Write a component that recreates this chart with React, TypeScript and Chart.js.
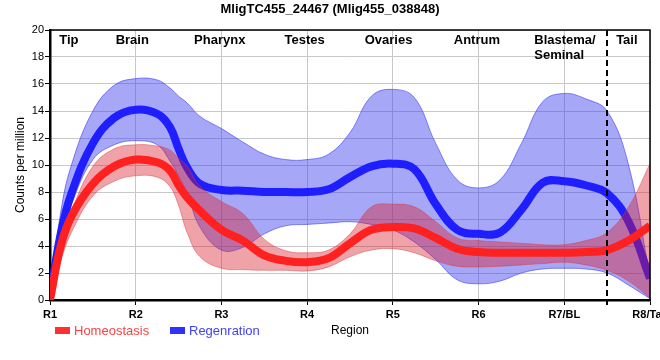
import React, { useEffect, useRef } from "react";
import { Chart, registerables } from "chart.js";

Chart.register(...registerables);

// ---- data ----
const chartTitle = "MligTC455_24467 (Mlig455_038848)";
const xTickLabels = ["R1", "R2", "R3", "R4", "R5", "R6", "R7/BL", "R8/Tail"];
const regionNames = ["Tip", "Brain", "Pharynx", "Testes", "Ovaries", "Antrum", "Blastema/\nSeminal", "Tail"];
const regionAt = [1.22, 1.96, 2.98, 3.97, 4.95, 5.98, 6.65, 7.73];
const dividerAt = 7.5;

const xPos = [1, 1.125, 1.25, 1.5, 1.75, 2, 2.25, 2.4, 2.5, 2.6, 2.75, 3, 3.25, 3.5, 3.75, 4, 4.25, 4.5, 4.75, 5, 5.25, 5.5, 5.75, 6, 6.25, 6.5, 6.75, 7, 7.25, 7.5, 7.75, 8];

const homeoMean = [0, 4.0, 6.2, 8.6, 9.9, 10.4, 10.2, 9.6, 8.5, 7.6, 6.6, 5.2, 4.4, 3.3, 2.9, 2.8, 3.1, 4.2, 5.2, 5.4, 5.3, 4.6, 3.8, 3.55, 3.5, 3.5, 3.5, 3.5, 3.55, 3.7, 4.4, 5.5];
const homeoHigh = [0, 4.4, 6.6, 9.9, 11.2, 11.5, 11.4, 11.1, 10.5, 9.9, 8.4, 7.3, 6.4, 4.5, 3.65, 3.5, 3.7, 4.9, 6.9, 7.1, 6.9, 5.8, 4.6, 4.4, 4.3, 4.2, 4.1, 4.1, 4.4, 5.0, 6.9, 10.1];
const homeoLow = [0, 2.9, 5.0, 7.7, 8.8, 9.2, 9.1, 8.4, 7.0, 5.0, 3.2, 2.35, 2.25, 2.2, 2.2, 2.15, 2.45, 3.2, 3.7, 3.8, 3.5, 2.9, 2.5, 2.45, 2.5, 2.6, 2.7, 2.8, 2.6, 2.2, 1.4, 0.15];

const regenMean = [0.2, 4.9, 7.9, 11.6, 13.5, 14.1, 13.8, 12.8, 11.2, 9.8, 8.6, 8.15, 8.1, 8.0, 8.0, 8.0, 8.2, 9.1, 9.9, 10.1, 9.7, 7.1, 5.2, 4.9, 5.0, 6.7, 8.7, 8.8, 8.5, 7.9, 5.8, 1.6];
const regenHigh = [0.3, 6.5, 10.0, 14.0, 15.9, 16.4, 16.3, 15.7, 15.1, 14.6, 13.6, 12.7, 11.7, 10.8, 10.4, 10.4, 10.8, 12.4, 15.1, 15.6, 15.0, 11.6, 8.9, 8.3, 8.9, 11.6, 14.7, 15.3, 14.9, 14.0, 10.0, 1.7];
const regenLow = [0, 4.6, 7.1, 10.4, 11.5, 11.8, 11.5, 10.3, 9.2, 7.9, 5.4, 3.7, 3.9, 4.9, 5.5, 5.6, 5.7, 5.8, 5.6, 5.2, 4.3, 3.0, 1.5, 1.2, 1.4, 2.0, 2.3, 2.35, 2.3, 2.0, 1.1, 0.1];

const seriesNames = ["Homeostasis", "Regenration"];

// ---- styles ----
const FONT = "'Liberation Sans', Arial, sans-serif";
const RED_LINE = "rgb(255,32,32)";
const BLUE_LINE = "rgb(30,30,255)";
const RED_FILL = "rgba(215,25,40,0.4)";
const BLUE_FILL = "rgba(60,60,240,0.45)";
const RED_EDGE = "rgba(222,60,60,0.45)";
const BLUE_EDGE = "rgba(60,60,240,0.6)";
const TENSION = 0.4;

const pts = (arr: number[]) => xPos.map((x, i) => ({ x, y: arr[i] }));

const overlay = {
  id: "overlay",
  afterDraw(chart: any) {
    const { ctx, chartArea: ca, scales } = chart;
    const x = scales.x;
    ctx.save();
    ctx.strokeStyle = "#000";
    ctx.lineWidth = 1.5;
    ctx.beginPath();
    ctx.moveTo(ca.left, ca.top);
    ctx.lineTo(ca.right, ca.top);
    ctx.lineTo(ca.right, ca.bottom);
    ctx.stroke();

    const dx = Math.round(x.getPixelForValue(dividerAt));
    ctx.setLineDash([6, 4]);
    ctx.lineWidth = 2;
    ctx.beginPath();
    ctx.moveTo(dx, ca.top);
    ctx.lineTo(dx, ca.bottom + 5);
    ctx.stroke();
    ctx.setLineDash([]);

    ctx.fillStyle = "#000";
    ctx.font = `bold 13px ${FONT}`;
    ctx.textBaseline = "alphabetic";
    regionNames.forEach((name, i) => {
      const px = x.getPixelForValue(regionAt[i]);
      const lines = name.split("\n");
      ctx.textAlign = lines.length > 1 ? "left" : "center";
      lines.forEach((ln, j) => ctx.fillText(ln, px, ca.top + 14 + j * 15));
    });

    ctx.font = `bold 13px ${FONT}`;
    ctx.textAlign = "center";
    ctx.textBaseline = "middle";
    ctx.fillText(chartTitle, chart.width / 2, 9);

    ctx.font = `13px ${FONT}`;
    ctx.textAlign = "left";
    const items = [
      { name: seriesNames[0], box: "rgb(255,48,48)", text: "rgb(255,64,64)", at: 55 },
      { name: seriesNames[1], box: "rgb(48,48,255)", text: "rgb(64,64,255)", at: 170 },
    ];
    items.forEach((it) => {
      ctx.fillStyle = it.box;
      ctx.fillRect(it.at, 327, 15, 7);
      ctx.fillStyle = it.text;
      ctx.fillText(it.name, it.at + 19, 331);
    });
    ctx.restore();
  },
};

export default function App() {
  const ref = useRef<HTMLCanvasElement>(null);
  useEffect(() => {
    if (!ref.current) return;
    Chart.defaults.font.family = FONT;
    const band = (data: number[], edge: string, fill: any, bg: string) => ({
      data: pts(data),
      borderColor: edge,
      borderWidth: 1,
      backgroundColor: bg,
      fill,
      pointRadius: 0,
      tension: TENSION,
    });
    const chart = new Chart(ref.current, {
      type: "line",
      data: {
        datasets: [
          {
            label: seriesNames[0],
            data: pts(homeoMean),
            borderColor: RED_LINE,
            borderWidth: 8,
            pointRadius: 0,
            fill: false,
            tension: TENSION,
          },
          band(homeoHigh, RED_EDGE, "+1", RED_FILL),
          band(homeoLow, RED_EDGE, false, RED_FILL),
          {
            label: seriesNames[1],
            data: pts(regenMean),
            borderColor: BLUE_LINE,
            borderWidth: 8,
            pointRadius: 0,
            fill: false,
            tension: TENSION,
          },
          band(regenHigh, BLUE_EDGE, "+1", BLUE_FILL),
          band(regenLow, BLUE_EDGE, false, BLUE_FILL),
        ] as any,
      },
      options: {
        animation: false,
        responsive: false,
        devicePixelRatio: 1,
        layout: { padding: { top: 30, right: 10, left: 0, bottom: 0 } },
        plugins: {
          legend: { display: false },
          title: { display: false },
          tooltip: { enabled: false },
        },
        scales: {
          x: {
            type: "linear",
            min: 1,
            max: 8,
            afterFit: (s: any) => {
              s.height = 60;
              s.paddingLeft = 0;
              s.paddingRight = 0;
            },
            ticks: {
              stepSize: 1,
              color: "#000",
              font: { size: 11, weight: "bold" },
              padding: 3,
              maxRotation: 0,
              autoSkip: false,
              callback: (v: any) => xTickLabels[Math.round(v) - 1] ?? "",
            },
            grid: { color: "#c8c8c8", tickColor: "#000", tickLength: 5 },
            border: { color: "#000", width: 2.5 },
            title: {
              display: true,
              text: "Region",
              color: "#000",
              font: { size: 12 },
              padding: { top: 0, bottom: 22 },
            },
          },
          y: {
            min: 0,
            max: 20,
            afterFit: (s: any) => {
              s.width = 50;
              s.paddingTop = 0;
              s.paddingBottom = 0;
            },
            ticks: { stepSize: 2, color: "#000", font: { size: 11 }, padding: 1 },
            grid: { color: "#c8c8c8", tickColor: "#000", tickLength: 5 },
            border: { color: "#000", width: 2.5 },
            title: {
              display: true,
              text: "Counts per million",
              color: "#000",
              font: { size: 12 },
              padding: { top: 13, bottom: 0 },
            },
          },
        },
      },
      plugins: [overlay],
    });
    return () => chart.destroy();
  }, []);
  return (
    <div style={{ position: "fixed", left: 0, top: 0, width: 660, height: 360, background: "#fff" }}>
      <canvas ref={ref} width={660} height={360} />
    </div>
  );
}
